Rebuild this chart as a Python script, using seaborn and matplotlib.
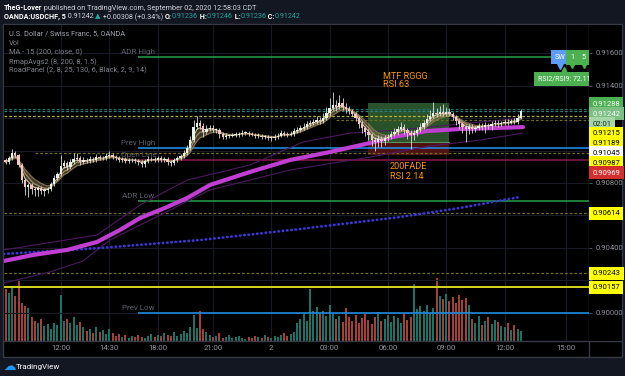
import matplotlib
matplotlib.use("Agg")
import matplotlib.pyplot as plt
import numpy as np
import pandas as pd
import seaborn as sns
from matplotlib.lines import Line2D
from matplotlib.patches import Rectangle

W, H = 625, 376
BG = "#131722"
FONT = ["Roboto", "DejaVu Sans"]

# ---- data (10-minute bars, USDCHF) -------------------------------------
TIME_LABELS = ["12:00", "14:30", "18:00", "21:00", "2", "03:00", "06:00", "09:00", "12:00", "15:00"]
TIME_BARS = [17, 32, 47, 64, 82, 100, 118, 136, 154, 173]

FIRST_OPEN = 0.90940
CLOSES = [
    0.90930, 0.90954, 0.90985, 0.90973, 0.90911, 0.90818, 0.90775, 0.90788, 0.90763, 0.90757,
    0.90769, 0.90751, 0.90757, 0.90763, 0.90794, 0.90831, 0.90855, 0.90905, 0.90923, 0.90899,
    0.90930, 0.90948, 0.90954, 0.90930, 0.90942, 0.90936, 0.90948, 0.90942, 0.90960, 0.90954,
    0.90954, 0.90967, 0.90973, 0.90960, 0.90954, 0.90942, 0.90948, 0.90936, 0.90942, 0.90942,
    0.90936, 0.90930, 0.90917, 0.90936, 0.90948, 0.90948, 0.90942, 0.90954, 0.90942, 0.90948,
    0.90930, 0.90923, 0.90942, 0.90954, 0.90967, 0.90985, 0.91016, 0.91066, 0.91146, 0.91171,
    0.91153, 0.91116, 0.91134, 0.91140, 0.91128, 0.91128, 0.91103, 0.91085, 0.91091, 0.91091,
    0.91097, 0.91097, 0.91103, 0.91109, 0.91109, 0.91103, 0.91097, 0.91091, 0.91091, 0.91085,
    0.91085, 0.91079, 0.91079, 0.91085, 0.91091, 0.91109, 0.91103, 0.91097, 0.91103, 0.91122,
    0.91128, 0.91140, 0.91146, 0.91165, 0.91171, 0.91177, 0.91190, 0.91183, 0.91202, 0.91232,
    0.91263, 0.91281, 0.91269, 0.91294, 0.91269, 0.91256, 0.91244, 0.91226, 0.91202, 0.91165,
    0.91140, 0.91116, 0.91097, 0.91066, 0.91054, 0.91072, 0.91060, 0.91079, 0.91085, 0.91103,
    0.91116, 0.91134, 0.91146, 0.91128, 0.91109, 0.91097, 0.91109, 0.91128, 0.91146, 0.91171,
    0.91196, 0.91214, 0.91232, 0.91226, 0.91238, 0.91226, 0.91238, 0.91226, 0.91208, 0.91183,
    0.91165, 0.91146, 0.91134, 0.91146, 0.91134, 0.91140, 0.91153, 0.91146, 0.91159, 0.91153,
    0.91165, 0.91171, 0.91165, 0.91171, 0.91177, 0.91171, 0.91183, 0.91177, 0.91202, 0.91242,
]
# wick lengths in pips
UPPER_WICK = [
    1.5, 1.2, 2.5, 1.0, 0.8, 1.0, 1.2, 1.5, 1.0, 1.2,
    1.5, 1.0, 1.2, 1.5, 1.0, 1.8, 1.5, 7.0, 2.0, 1.5,
    2.0, 3.5, 3.0, 1.5, 1.8, 1.2, 2.0, 1.5, 2.0, 1.2,
    1.5, 2.0, 2.5, 1.2, 1.0, 1.5, 1.2, 1.0, 1.5, 1.2,
    1.0, 1.2, 1.0, 1.5, 1.8, 1.2, 1.0, 1.5, 1.2, 1.0,
    1.2, 1.0, 1.5, 1.2, 1.5, 1.8, 2.0, 2.5, 4.0, 4.5,
    2.0, 1.5, 2.5, 2.0, 1.5, 1.2, 1.0, 1.2, 1.5, 1.0,
    1.2, 1.5, 1.0, 1.8, 1.2, 1.0, 1.2, 1.0, 1.5, 1.0,
    1.2, 1.0, 1.2, 1.5, 1.8, 2.0, 1.2, 1.0, 1.5, 2.0,
    1.5, 2.0, 2.5, 1.8, 2.0, 1.5, 2.5, 1.5, 3.0, 3.5,
    6.0, 8.0, 3.0, 5.0, 3.0, 2.5, 2.0, 1.5, 1.5, 1.2,
    1.5, 1.2, 2.0, 1.0, 1.5, 2.5, 1.5, 2.0, 1.5, 2.0,
    2.5, 2.0, 3.0, 1.5, 1.2, 1.5, 2.0, 1.5, 2.5, 2.0,
    3.0, 3.5, 7.0, 3.0, 4.0, 5.0, 3.0, 2.5, 1.5, 1.2,
    1.5, 1.0, 1.2, 2.0, 1.5, 1.2, 1.5, 2.0, 1.5, 1.2,
    1.5, 2.0, 1.5, 1.2, 1.5, 2.0, 1.5, 2.0, 2.5, 1.5,
]
LOWER_WICK = [
    1.0, 1.5, 1.2, 1.0, 1.5, 2.0, 5.0, 6.0, 3.0, 4.0,
    3.5, 2.0, 3.0, 2.0, 1.5, 1.2, 1.5, 1.0, 1.5, 2.0,
    1.5, 1.2, 1.0, 2.0, 1.5, 1.2, 1.0, 1.5, 1.2, 1.0,
    1.2, 1.0, 1.5, 1.2, 1.5, 1.0, 1.2, 1.5, 1.0, 1.2,
    1.5, 1.8, 2.0, 2.0, 1.2, 1.0, 1.5, 1.2, 1.0, 1.2,
    1.8, 2.0, 1.5, 1.2, 1.0, 1.2, 1.5, 1.0, 1.5, 1.2,
    2.0, 3.0, 1.5, 1.2, 1.5, 2.0, 2.5, 1.5, 1.2, 1.5,
    1.0, 1.2, 1.5, 1.0, 1.2, 1.5, 1.0, 1.2, 1.5, 1.2,
    1.5, 1.2, 1.8, 1.5, 1.2, 1.0, 1.5, 1.2, 1.0, 1.2,
    1.5, 1.2, 1.0, 1.5, 1.2, 1.5, 1.0, 1.8, 1.2, 1.5,
    2.0, 1.5, 2.5, 1.5, 2.0, 2.5, 2.0, 1.5, 2.0, 2.5,
    3.0, 2.5, 3.0, 4.0, 5.5, 3.0, 3.5, 2.5, 2.0, 1.5,
    1.5, 2.0, 1.5, 2.5, 3.5, 9.0, 3.0, 2.0, 1.5, 1.2,
    1.5, 1.2, 1.5, 2.0, 1.5, 1.2, 1.5, 1.2, 2.0, 2.5,
    3.0, 4.0, 8.0, 3.0, 2.5, 2.0, 1.5, 2.0, 3.5, 2.0,
    2.5, 1.5, 2.0, 1.5, 1.2, 1.5, 1.0, 1.2, 1.0, 1.0,
]
VOLUME = [
    520, 480, 550, 450, 600, 380, 350, 330, 240, 200,
    180, 220, 150, 170, 120, 180, 160, 460, 200, 220,
    180, 240, 160, 190, 140, 100, 120, 80, 140, 90,
    110, 70, 120, 80, 50, 70, 40, 60, 30, 50,
    40, 60, 40, 30, 50, 70, 40, 60, 50, 80,
    60, 50, 90, 50, 70, 100, 80, 140, 260, 130,
    300, 120, 90, 60, 40, 50, 80, 30, 40, 60,
    30, 40, 50, 30, 20, 40, 30, 50, 40, 30,
    60, 40, 30, 50, 40, 60, 80, 50, 70, 90,
    180, 220, 280, 200, 520, 300, 340, 270, 300, 250,
    360, 280, 220, 250, 190, 330, 240, 200, 260, 180,
    230, 270, 210, 170, 240, 290, 200, 220, 260, 190,
    250, 230, 180, 280, 210, 240, 570, 320, 350, 300,
    360, 280, 330, 630, 450, 420, 470, 400, 440, 380,
    460, 410, 430, 360, 220, 180, 250, 160, 200, 240,
    170, 210, 190, 150, 140, 180, 110, 160, 120, 100,
]

MA200_BARS = [-0.5, 8.5, 19, 28.2, 35.3, 41.5, 49.2, 56, 63.1, 75.4, 87.8, 100.1, 112.5, 119.6, 130.1, 140.2, 150.4, 159.7]
MA200 = [0.90319, 0.90356, 0.90387, 0.90436, 0.90510, 0.90584, 0.90646, 0.90707, 0.90788, 0.90868,
         0.90942, 0.90991, 0.91047, 0.91084, 0.91121, 0.91133, 0.91139, 0.91145]
BAND_UP_BARS = [-0.5, 28.2, 41.5, 56, 75.4, 91.8, 106.3, 121.7, 137.2, 159.7]
BAND_UP = [0.90387, 0.90479, 0.90664, 0.90818, 0.90911, 0.91053, 0.91108, 0.91127, 0.91158, 0.91201]
BAND_LO_BARS = [-0.5, 13.7, 23.9, 32.2, 47.7, 63.1, 87.8, 112.5, 131, 146.4, 159.7]
BAND_LO = [0.90183, 0.90251, 0.90319, 0.90448, 0.90602, 0.90757, 0.90880, 0.90960, 0.91028, 0.91065, 0.91108]
HTF_BARS = [-0.5, 29.1, 60, 90.9, 121.7, 140.2, 158.8]
HTF_MA = [0.90362, 0.90399, 0.90448, 0.90516, 0.90590, 0.90646, 0.90714]

LEVEL_NAMES = ["ADR High", "Prev High", "Open Line", "ADR Low", "Prev Low"]
LEVEL_PRICES = [0.91579, 0.91016, 0.90942, 0.90689, 0.89998]
LEVEL_START = 41
DASHED_PRICES = [0.91256, 0.91242, 0.91215, 0.91189, 0.90987, 0.90614, 0.90243]
DASHED_START = [-1, -1, -1, 102, 9, -1, -1]
SOLID_YELLOW = 0.90157

BOX_BARS = [111.9, 136.9]
GREEN_BOX = [0.91047, 0.91293]
RED_BOX = [0.90973, 0.91047]

LABEL_PRICES = [0.91288, 0.91242, 0.91215, 0.91189, 0.91045, 0.90987, 0.90969, 0.90614, 0.90243, 0.90157]
LABEL_KIND = ["high", "last", "yellow", "yellow", "white", "yellow", "red", "yellow", "yellow", "yellow"]
COUNTDOWN = "02:01"
PRICE_TICKS = [0.916, 0.914, 0.912, 0.910, 0.908, 0.906, 0.904, 0.902, 0.900]

YLIM = (0.89825, 0.91775)
XLIM = (-0.49, 180.06)

KIND_STYLE = {
    "high": ("#4caf50", "white"),
    "last": ("#7cbf83", "white"),
    "count": ("#a5d6a7", "#1e2a1f"),
    "yellow": ("#ffff00", "black"),
    "white": ("#ffffff", "black"),
    "red": ("#d32f2f", "white"),
}


def fx(x):
    return x / W


def fy(y):
    return 1 - y / H


def draw_runs(fig, x, y, runs, size):
    renderer = fig.canvas.get_renderer()
    for text, color, weight in runs:
        t = fig.text(fx(x), fy(y), text, color=color, fontsize=size, fontweight=weight,
                     va="center", ha="left", family=FONT)
        x += t.get_window_extent(renderer=renderer).width


sns.set_theme(style="dark", rc={"axes.facecolor": "black", "figure.facecolor": BG,
                                "axes.edgecolor": "black", "axes.grid": False})
plt.rcParams["font.family"] = FONT

fig = plt.figure(figsize=(W / 100, H / 100), dpi=100)
fig.patch.set_facecolor(BG)
fig.patches.append(Rectangle((fx(3), fy(357)), fx(619), 333 / H, transform=fig.transFigure,
                             facecolor="black", edgecolor="#363a45", lw=1.0, zorder=0))

rect = [fx(4), fy(341), fx(585), 316 / H]
vol_ax = fig.add_axes(rect, zorder=1)
ax = fig.add_axes(rect, zorder=2, sharex=vol_ax)
ax.patch.set_alpha(0)
pax = fig.add_axes([fx(589), fy(341), fx(33), 316 / H], zorder=2, sharey=ax)

# ---- volume ----
closes = np.array(CLOSES)
opens = np.concatenate([[FIRST_OPEN], closes[:-1]])
bars = np.arange(len(closes))
up = closes >= opens
vol_ax.bar(bars, VOLUME, width=0.62, color=np.where(up, "#1d7267", "#a3403a"), lw=0)
vol_ax.set_ylim(0, 3160)
vol_ax.set_facecolor("black")
vol_ax.set_xticks(TIME_BARS)
vol_ax.grid(True, axis="x", color="#181b25", lw=0.8)
vol_ax.set_axisbelow(True)
vol_ax.tick_params(labelbottom=False, labelleft=False, length=0)
for s in vol_ax.spines.values():
    s.set_visible(False)

# ---- price pane ----
ax.set_xlim(*XLIM)
ax.set_ylim(*YLIM)
for p in PRICE_TICKS:
    ax.axhline(p, color="#181b25", lw=0.8, zorder=0.5)

ax.add_patch(Rectangle((BOX_BARS[0], GREEN_BOX[0]), BOX_BARS[1] - BOX_BARS[0], GREEN_BOX[1] - GREEN_BOX[0],
                       facecolor="#2f5c2f", edgecolor="none", alpha=0.9, zorder=1))
ax.add_patch(Rectangle((BOX_BARS[0], RED_BOX[0]), BOX_BARS[1] - BOX_BARS[0], RED_BOX[1] - RED_BOX[0],
                       facecolor="#561212", edgecolor="none", alpha=0.95, zorder=1))
ax.plot(BOX_BARS, [GREEN_BOX[0] + 0.00004] * 2, color="#5f8f5f", lw=0.8, zorder=1.1)

level_colors = ["#26a148", "#2196f3", "#8b1a4b", "#26a148", "#2196f3"]
for name, price, color in zip(LEVEL_NAMES, LEVEL_PRICES, level_colors):
    ax.hlines(price, LEVEL_START, XLIM[1], color=color, lw=1.1, zorder=2)
    ax.annotate(name, (LEVEL_START, price), xytext=(0, 1.5), textcoords="offset points",
                ha="center", va="bottom", color="#5d606b", fontsize=5.8, zorder=2)

dashed_colors = ["#1f6b70", "#2a7f80", "#b7b72a", "#6f6f1c", "#6f6f1c", "#6f6f1c", "#6f6f1c"]
for price, start, color in zip(DASHED_PRICES, DASHED_START, dashed_colors):
    ax.hlines(price, max(start, XLIM[0]), XLIM[1], color=color, lw=0.9, linestyles=(0, (2.2, 1.6)), zorder=2)
ax.axhline(SOLID_YELLOW, color="#d6d61e", lw=1.4, zorder=2)

sns.lineplot(x=BAND_UP_BARS, y=BAND_UP, ax=ax, color="#4b1a5e", lw=0.8, zorder=2)
sns.lineplot(x=BAND_LO_BARS, y=BAND_LO, ax=ax, color="#4b1a5e", lw=0.8, zorder=2)
sns.lineplot(x=HTF_BARS, y=HTF_MA, ax=ax, color="#3f35d8", lw=2.0,
             linestyle=(0, (0.1, 1.45)), dash_capstyle="round", zorder=2)
sns.lineplot(x=MA200_BARS, y=MA200, ax=ax, color="#c13ed3", lw=3.0, zorder=3)

# ribbon of short averages around price
frame = pd.DataFrame({"bar": bars, "close": closes})
emas = []
for span in [3, 5, 8]:
    emas.append(frame["close"].ewm(span=span, adjust=False).mean())
ax.fill_between(bars, np.min(emas, axis=0), np.max(emas, axis=0), color="#8c7b58", alpha=0.45, lw=0, zorder=3.5)
for series, color in zip(emas, ["#d8c9a3", "#a8956c", "#8a7650"]):
    sns.lineplot(x=bars, y=series.values, ax=ax, color=color, lw=0.8, zorder=3.6)

highs = np.maximum(opens, closes) + np.array(UPPER_WICK) * 1e-4
lows = np.minimum(opens, closes) - np.array(LOWER_WICK) * 1e-4
ax.vlines(bars, lows, highs, colors="#dcdcdc", lw=0.6, zorder=5)
body = np.maximum(np.abs(closes - opens), 0.00003)
ax.bar(bars, body, bottom=np.minimum(opens, closes), width=0.72,
       color=np.where(up, "#e4f5e8", "#f3c6c4"), lw=0, zorder=6)

ax.text(116.5, 0.91460, "MTF RGGG", color="#ff9800", fontsize=6.6, va="center", zorder=7)
ax.text(116.5, 0.91405, "RSI 63", color="#ff9800", fontsize=6.6, va="center", zorder=7)
ax.text(118.6, 0.90899, "200FADE", color="#ff9800", fontsize=6.6, va="center", zorder=7)
ax.text(118.6, 0.90843, "RSI 2.14", color="#ff9800", fontsize=6.6, va="center", zorder=7)

# signal flags at the right edge
ax.text(171.1, 0.91577, "SW", color="white", fontsize=5.2, ha="center", va="center", zorder=8,
        bbox=dict(boxstyle="square,pad=0.45", fc="#5b9cf6", ec="none"))
ax.plot([171.1], [0.91525], marker="v", ms=4, color="#5b9cf6", zorder=8)
for bar_x, txt in [(174.8, "1"), (178.4, "5")]:
    ax.text(bar_x, 0.91577, txt, color="white", fontsize=5.2, ha="center", va="center", zorder=8,
            bbox=dict(boxstyle="square,pad=0.55", fc="#4caf50", ec="none"))
    ax.plot([bar_x], [0.91527], marker="v", ms=4.5, color="#4caf50", zorder=8)
ax.text(172.4, 0.91442, "RSI2/RSI9: 72.11", color="white", fontsize=5.0, ha="center", va="center",
        zorder=8, clip_on=True, bbox=dict(boxstyle="square,pad=0.5", fc="#4caf50", ec="none"))
ax.plot([172.4], [0.91495], marker="^", ms=4, color="#4caf50", zorder=8)

ax.set_xticks(TIME_BARS, TIME_LABELS)
ax.set_yticks([])
ax.tick_params(axis="x", length=0, pad=3, labelsize=5.6, labelcolor="#9598a1")
ax.set_xlabel("")
ax.set_ylabel("")
for s in ax.spines.values():
    s.set_visible(False)

# ---- price scale ----
pax.set_xlim(0, 1)
pax.set_facecolor("black")
pax.set_xticks([])
pax.tick_params(left=False, labelleft=False)
for s in pax.spines.values():
    s.set_visible(False)

px_unit = (YLIM[1] - YLIM[0]) / 316
step = 9.8 * px_unit
prev = None
entries = []
for price, kind in zip(LABEL_PRICES, LABEL_KIND):
    entries.append((f"{price:.5f}", price, kind))
    if kind == "last":
        entries.append((COUNTDOWN, None, "count"))
placed = []
for text, price, kind in entries:
    pos = prev - step if price is None else (price if prev is None else min(price, prev - step))
    fc, tc = KIND_STYLE[kind]
    pax.text(0.1, pos, text, color=tc, fontsize=5.5, va="center", ha="left", zorder=5,
             bbox=dict(boxstyle="square,pad=0.45", fc=fc, ec="none"))
    placed.append(pos)
    prev = pos

for p in PRICE_TICKS:
    pax.hlines(p, 0, 0.1, color="#5d606b", lw=0.6)
    if min(abs(p - q) for q in placed) > 8.5 * px_unit:
        pax.text(0.2, p, f"{p:.5f}", color="#8f929b", fontsize=5.5, va="center", zorder=2)

# pane separators
fig.add_artist(Line2D([fx(589), fx(589)], [fy(24), fy(357)], color="#363a45", lw=1.0))
fig.add_artist(Line2D([fx(3), fx(622)], [fy(341), fy(341)], color="#363a45", lw=1.0))

# ---- header, legend and footer ----
draw_runs(fig, 4, 8, [("TheG-Lover", "white", "bold"),
                      (" published on TradingView.com, September 02, 2020 12:58:03 CDT", "#d1d4dc", "normal")], 5.25)
teal = "#26a69a"
draw_runs(fig, 4, 17, [("OANDA:USDCHF, 5", "white", "bold"), (" 0.91242 ", "#d1d4dc", "normal"),
                       ("\u25b2", teal, "normal"), (" +0.00308 (+0.34%) ", "#d1d4dc", "normal"),
                       ("O:", "white", "bold"), ("0.91236", teal, "normal"),
                       (" H:", "white", "bold"), ("0.91246", teal, "normal"),
                       (" L:", "white", "bold"), ("0.91236", teal, "normal"),
                       (" C:", "white", "bold"), ("0.91242", teal, "normal")], 5.25)

legend_lines = ["U.S. Dollar / Swiss Franc, 5, OANDA", "Vol", "MA - 15 (200, close, 0)",
                "RmapAvgs2 (8, 200, 8, 1.5)", "RoadPanel (2, 8, 25, 130, 6, Black, 2, 9, 14)"]
for i, line in enumerate(legend_lines):
    fig.text(fx(9), fy(34 + 9.2 * i), line, color="#a3a6af" if i == 0 else "#80838c",
             fontsize=5.35, va="center", ha="left", zorder=5)

fig.text(fx(3), fy(366), "\u2601", color="#2196f3", fontsize=9, va="center", ha="left",
         family=["DejaVu Sans"])
fig.text(fx(16), fy(367), "TradingView", color="white", fontsize=5.8, va="center", ha="left")

fig.savefig("out.png", dpi=100, facecolor=BG)
plt.close(fig)
